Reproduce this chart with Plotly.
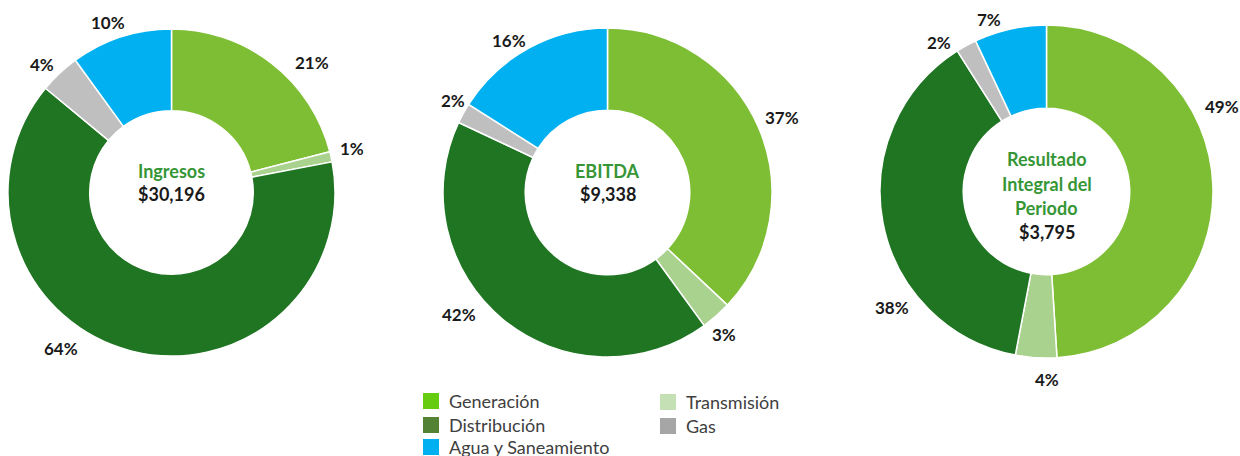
import math
import plotly.graph_objects as go

segments = ["Generación", "Transmisión", "Distribución", "Gas", "Agua y Saneamiento"]
ingresos = [21, 1, 64, 4, 10]
ebitda = [37, 3, 42, 2, 16]
resultado = [49, 4, 38, 2, 7]

titles = [["Ingresos"], ["EBITDA"], ["Resultado", "Integral del", "Periodo"]]
totals = ["$30,196", "$9,338", "$3,795"]

slice_colors = ["#7DBE34", "#A9D28E", "#1F7522", "#BFBFBF", "#00B0F0"]
legend_colors = {"Generación": "#66CC11", "Distribución": "#548235",
                 "Agua y Saneamiento": "#00B0F0", "Transmisión": "#C5E0B4", "Gas": "#A6A6A6"}

W, H = 1240, 456
FONT = "Lato"

# pie placement in pixels: (left, right, top, bottom)
boxes = [(8, 335, 28, 357), (443, 772, 28, 357), (880, 1213, 25, 358)]

# label placement tweaks (degrees added to slice mid-angle, radial distance in px)
label_angle_nudge = [[9.5, -1, 21, -2, -2.5], [0, 2, 11, 2, -4], [-24, -3.6, -26, -7, -6]]
label_dist = [[191, 186, 191, 182, 181], [190, 184, 192, 180, 181], [195, 188, 193, 184, 181]]

fig = go.Figure()
annotations = []
for k, (vals, (l, r, t, b)) in enumerate(zip([ingresos, ebitda, resultado], boxes)):
    fig.add_trace(go.Pie(
        labels=segments, values=vals, sort=False, direction="clockwise", rotation=0,
        hole=0.5,
        marker=dict(colors=slice_colors, line=dict(color="white", width=1.5)),
        textinfo="none",
        domain=dict(x=[l / W, r / W], y=[1 - b / H, 1 - t / H]),
        showlegend=False, hoverinfo="label+value",
    ))
    cx, cy = (l + r) / 2, (t + b) / 2
    total = sum(vals)
    cum = 0
    for i, v in enumerate(vals):
        mid = (cum + v / 2) / total * 360 + label_angle_nudge[k][i]
        cum += v
        a = math.radians(mid)
        d = label_dist[k][i]
        px = cx + d * math.sin(a)
        py = cy - d * math.cos(a)
        annotations.append(dict(
            x=px / W, y=1 - py / H, xref="paper", yref="paper",
            text=f"{v}%", showarrow=False, xanchor="center", yanchor="middle",
            font=dict(family=FONT, size=17, color="#1a1a1a", weight="bold"),
        ))

for (l, r, t, b), ttl, tot in zip(boxes, titles, totals):
    cx = (l + r) / 2
    cy = (t + b) / 2
    lines = ttl + [tot]
    n = len(lines)
    step = 23.5 if n == 2 else 24
    y0 = cy - 22 if n == 2 else cy - 32
    for i, line in enumerate(lines):
        is_total = i == n - 1
        annotations.append(dict(
            x=cx / W, y=1 - (y0 + i * step) / H, xref="paper", yref="paper",
            text=line, showarrow=False, xanchor="center", yanchor="middle",
            font=dict(family=FONT, size=18, weight="bold",
                      color="#1a1a1a" if is_total else "#369636"),
        ))

# custom legend (two columns)
legend_items = [("Generación", 423, 401), ("Distribución", 423, 425), ("Agua y Saneamiento", 423, 447),
                ("Transmisión", 660, 402), ("Gas", 660, 426)]
shapes = []
for name, x, y in legend_items:
    shapes.append(dict(type="rect", xref="paper", yref="paper",
                       x0=x / W, x1=(x + 16) / W, y0=1 - (y + 8) / H, y1=1 - (y - 8) / H,
                       fillcolor=legend_colors[name], line=dict(width=0)))
    annotations.append(dict(x=(x + 24) / W, y=1 - y / H, xref="paper", yref="paper",
                            text=name, showarrow=False, xanchor="left", yanchor="middle",
                            font=dict(family=FONT, size=18, color="#404040")))

fig.update_layout(
    width=W, height=H, margin=dict(l=0, r=0, t=0, b=0),
    paper_bgcolor="white", plot_bgcolor="white",
    annotations=annotations, shapes=shapes, showlegend=False,
)
fig.write_html(
    "out.html",
    config={"responsive": False},
    post_script="document.documentElement.style.overflow='hidden';"
                "document.body.style.overflow='hidden';document.body.style.margin='0';",
)
